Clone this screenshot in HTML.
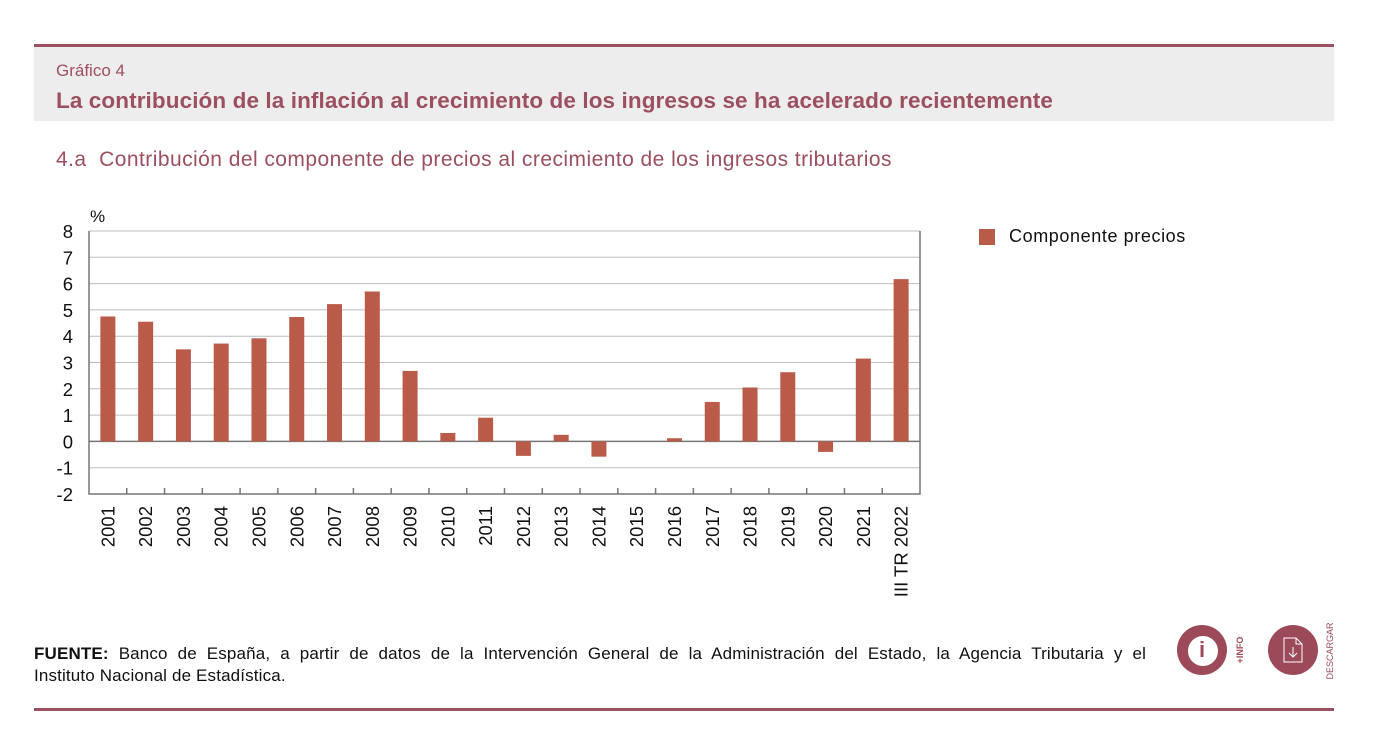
<!DOCTYPE html>
<html><head><meta charset="utf-8"><style>
body{margin:0;width:1382px;height:738px;background:#fff;font-family:"Liberation Sans",sans-serif;position:relative;overflow:hidden}
.abs{position:absolute}
</style></head><body>
<div class="abs" style="left:34px;top:44px;width:1300px;height:77px;background:#ededed;border-top:3px solid #9c4f5e;box-sizing:border-box"></div>
<div class="abs" style="left:56px;top:61px;font-size:17px;color:#9c4f5e">Gráfico 4</div>
<div class="abs" style="left:56px;top:88px;font-size:22.5px;letter-spacing:0.1px;font-weight:bold;color:#9c4f5e;white-space:nowrap">La contribución de la inflación al crecimiento de los ingresos se ha acelerado recientemente</div>
<div class="abs" style="left:56px;top:148px;font-size:21px;letter-spacing:0.45px;color:#9c4f5e;white-space:nowrap">4.a&nbsp; Contribución del componente de precios al crecimiento de los ingresos tributarios</div>
<svg class="abs" style="left:0;top:0" width="1382" height="620" id="chart"></svg>
<div class="abs" style="left:979px;top:229px;width:16px;height:16px;background:#ba5a48"></div>
<div class="abs" style="left:1009px;top:226px;font-size:18px;letter-spacing:0.6px;color:#111">Componente precios</div>
<div class="abs" style="left:34px;top:643px;width:1112px;font-size:17px;letter-spacing:0.15px;line-height:22px;color:#111">
<div style="text-align:justify;text-align-last:justify"><b>FUENTE:</b> Banco de España, a partir de datos de la Intervención General de la Administración del Estado, la Agencia Tributaria y el</div>
<div>Instituto Nacional de Estadística.</div></div>
<div class="abs" style="left:1177px;top:625px;width:50px;height:50px;border-radius:50%;background:#9c4a5a">
<div style="position:absolute;left:11px;top:11px;width:20px;height:20px;border:5px solid #fff;border-radius:50%;background:#fff"></div>
<div style="position:absolute;left:16px;top:14px;width:18px;height:22px;color:#9c4a5a;font-weight:bold;font-size:22px;text-align:center;line-height:22px">i</div></div>
<div class="abs" style="left:1240px;top:650px;transform:translate(-50%,-50%) rotate(-90deg);font-size:9px;font-weight:bold;color:#9c4a5a;white-space:nowrap;transform-origin:center">+INFO</div>
<div class="abs" style="left:1268px;top:625px;width:50px;height:50px;border-radius:50%;background:#9c4a5a">
<svg width="50" height="50"><path d="M16 13h12l6 6v18h-18z M28 13v6h6" fill="none" stroke="#fff" stroke-width="1"/><path d="M25 22v10 M21 28l4 4 4-4" fill="none" stroke="#fff" stroke-width="1"/></svg></div>
<div class="abs" style="left:1330px;top:651px;transform:translate(-50%,-50%) rotate(-90deg);font-size:9px;color:#9c4a5a;white-space:nowrap">DESCARGAR</div>
<div class="abs" style="left:34px;top:708px;width:1300px;height:3px;background:#9c4f5e"></div>
<script>
const categories=["2001","2002","2003","2004","2005","2006","2007","2008","2009","2010","2011","2012","2013","2014","2015","2016","2017","2018","2019","2020","2021","III TR 2022"];
const values=[4.75,4.55,3.5,3.72,3.92,4.73,5.22,5.7,2.68,0.32,0.9,-0.55,0.25,-0.58,0,0.12,1.5,2.05,2.63,-0.4,3.15,6.17];
const yTicks=[8,7,6,5,4,3,2,1,0,-1,-2];
const svg=document.getElementById('chart');const NS='http://www.w3.org/2000/svg';
const x0=89,x1=920,yTop=231,yBot=494,yMin=-2,yMax=8;
const y=v=>yBot-(v-yMin)/(yMax-yMin)*(yBot-yTop);
const bw=(x1-x0)/categories.length;
function mk(t,a,parent){const e=document.createElementNS(NS,t);for(const k in a)e.setAttribute(k,a[k]);(parent||svg).appendChild(e);return e;}
yTicks.forEach(t=>{
 const g=mk('line',{x1:x0,x2:x1,y1:y(t),y2:y(t),stroke:t===0?'#777':'#bdbdbd','stroke-width':t===0?1.5:1});
 
 
 const l=mk('text',{x:73,y:y(t)+7,'text-anchor':'end','font-size':18.5,fill:'#111','font-family':'Liberation Sans'});
 l.textContent=t;
 
 
});
const u=mk('text',{x:90,y:222,'font-size':17,fill:'#111','font-family':'Liberation Sans'});u.textContent='%';


const ax=mk('path',{d:`M${x0} ${yTop}V${yBot}H${x1}V${yTop}`,fill:'none',stroke:'#777','stroke-width':1.5});


categories.forEach((c,i)=>{
 const cx=x0+bw*(i+0.5);
 if(i>0){const tk=mk('line',{x1:x0+bw*i,x2:x0+bw*i,y1:yBot,y2:yBot-6,stroke:'#777','stroke-width':1.5});
  
  }
 const v=values[i];
 const r=mk('rect',{x:cx-7.5,y:Math.min(y(v),y(0)),width:15,height:Math.abs(y(v)-y(0)),fill:'#ba5a48'});
 
 
 const t=mk('text',{x:0,y:0,'text-anchor':'end','font-size':18.5,fill:'#111','font-family':'Liberation Sans',transform:`translate(${cx+6.5},${yBot+12}) rotate(-90)`});
 t.textContent=c;
 
 
});
</script>
</body></html>
